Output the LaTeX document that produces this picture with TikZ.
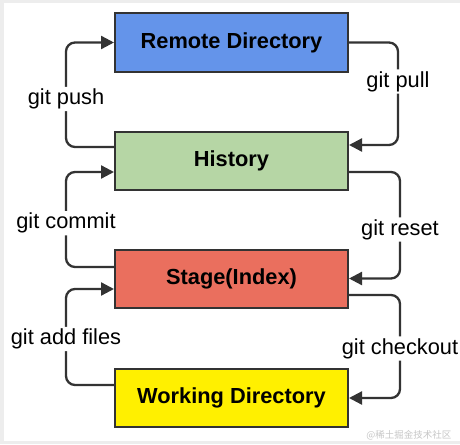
\documentclass[tikz,border=0pt]{standalone}
\usepackage{fontspec}
\setmainfont{Liberation Sans}
\newfontfamily\cjk{Noto Sans CJK SC}
\usepackage{xcolor}
\usepackage{tikz}
\usetikzlibrary{arrows.meta,positioning,calc}

\definecolor{remotec}{HTML}{6494EA}
\definecolor{histc}{HTML}{B6D6A5}
\definecolor{stagec}{HTML}{EA6F5E}
\definecolor{workc}{HTML}{FFF000}
\definecolor{linec}{HTML}{333333}

\begin{document}
\begin{tikzpicture}[x=1pt, y=-1pt, >={Triangle[length=13pt,width=13pt]},
  box/.style={draw=linec,line width=2pt,minimum width=233pt,minimum height=58pt,
    inner sep=0pt,font=\fontsize{21.8}{26}\selectfont\bfseries},
  flow/.style={->,draw=linec,line width=2.3pt,rounded corners=9pt},
  lbl/.style={fill=white,inner sep=2pt,text=black,font=\fontsize{21.8}{26}\selectfont}]
  \useasboundingbox (0,0) rectangle (460,444);
  \fill[black!7] (0,0) rectangle (460,444);
  \fill[white] (4,3) rectangle (460,441);
  % Boxes
  \node[box,fill=remotec] (remote) at (231.5,42.5) {Remote Directory};
  \node[box,fill=histc] (hist) at (231.5,161) {History};
  \node[box,fill=stagec] (stage) at (231.5,278.5) {Stage(Index)};
  \node[box,fill=workc] (work) at (231.5,398) {Working Directory};
  % Left: going up
  \draw[flow] ([yshift=14pt]hist.west) -- ++(-48,0) |- node[lbl,pos=0.23]{git push} (remote.west);
  \draw[flow] ([yshift=11.5pt]stage.west) -- ++(-48,0) |- node[lbl,pos=0.23]{git commit} ([yshift=-11pt]hist.west);
  \draw[flow] ([yshift=13pt]work.west) -- ++(-48,0) |- node[lbl,pos=0.24]{git add files} ([yshift=-10.5pt]stage.west);
  % Right: going down
  \draw[flow] (remote.east) -- ++(49,0) |- node[lbl,pos=0.19]{git pull} ([yshift=16pt]hist.east);
  \draw[flow] ([yshift=-11pt]hist.east) -- ++(51,0) |- node[lbl,pos=0.27]{git reset} (stage.east);
  \draw[flow] ([yshift=-16.5pt]stage.east) -- ++(51,0) |- node[lbl,pos=0.26]{git checkout} (work.east);
  % Watermark
  \node[text=black!22,font=\cjk\fontsize{9.5}{11}\selectfont,anchor=east] (mark) at (455,435) {@稀土掘金技术社区};
\end{tikzpicture}
\end{document}
